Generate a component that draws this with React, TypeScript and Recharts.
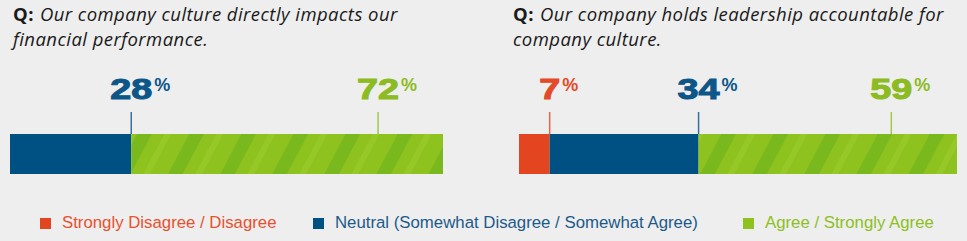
import React from "react";
import { BarChart, Bar, XAxis, YAxis, LabelList } from "recharts";

// survey answers, one entry per question (titles kept as their printed lines)
const QUESTIONS = [
  ["Our company culture directly impacts our", "financial performance."],
  ["Our company holds leadership accountable for", "company culture."],
];
const DISAGREE = [0, 7];
const NEUTRAL = [28, 34];
const AGREE = [72, 59];

const TICKS = [0, 10, 20, 30, 40, 50, 60, 70, 80, 90, 100];
const GREEN_MARKER = 85; // where the "agree" callout sits on the axis

const SERIES = [
  { key: "disagree", label: "Strongly Disagree / Disagree", color: "#e34521", text: "#e24a28", line: "#e8653f", legend: "#e8502e" },
  { key: "neutral", label: "Neutral (Somewhat Disagree / Somewhat Agree)", color: "#005183", text: "#0c5688", line: "#3a6f9c", legend: "#1d5a8a" },
  { key: "agree", label: "Agree / Strongly Agree", color: "url(#greenTexture)", text: "#8cbb22", line: "#9ec94e", legend: "#8cc022" },
];

const PANELS = [
  { left: 0, width: 480, margin: { top: 127, bottom: 59, left: 10, right: 37 }, titleLeft: 13 },
  { left: 480, width: 487, margin: { top: 127, bottom: 59, left: 39, right: 10 }, titleLeft: 513 },
];

function makeMarker(seriesKey: string, qi: number, color: string, lineColor: string) {
  return (p: any) => {
    const vb = p.viewBox || p;
    const x = Number(vb.x);
    const y = Number(vb.y);
    const w = Number(vb.width);
    let value = 0;
    let mx = x + w;
    if (seriesKey === "disagree") value = DISAGREE[qi];
    if (seriesKey === "neutral") value = NEUTRAL[qi];
    if (seriesKey === "agree") {
      value = AGREE[qi];
      const start = DISAGREE[qi] + NEUTRAL[qi];
      mx = x + (w * (GREEN_MARKER - start)) / value;
    }
    if (!value) return null;
    const digits = String(value).length;
    const numW = digits * 21;
    return (
      <g>
        <line x1={mx} x2={mx} y1={112} y2={y} stroke={lineColor} strokeWidth={1.5} />
        <text
          x={mx}
          y={99}
          textAnchor="middle"
          fontFamily="'Liberation Sans', Arial, sans-serif"
          fontWeight={700}
          fontSize={29}
          fill={color}
          stroke={color}
          strokeWidth={1}
          textLength={numW}
          lengthAdjust="spacingAndGlyphs"
        >
          {value}
        </text>
        <text
          x={mx + numW / 2 + 2}
          y={91}
          fontFamily="'Liberation Sans', Arial, sans-serif"
          fontWeight={700}
          fontSize={18}
          fill={color}
        >
          %
        </text>
      </g>
    );
  };
}

function Panel({ qi }: { qi: number }) {
  const cfg = PANELS[qi];
  const data = [
    { name: `q${qi}`, disagree: DISAGREE[qi], neutral: NEUTRAL[qi], agree: AGREE[qi] },
  ];
  return (
    <div style={{ position: "absolute", left: cfg.left, top: 0 }}>
      <BarChart width={cfg.width} height={241} data={data} layout="vertical" margin={cfg.margin} barCategoryGap={0}>
        <defs>
          <pattern id="greenTexture" width="46" height="46" patternUnits="userSpaceOnUse" patternTransform="rotate(28)">
            <rect width="46" height="46" fill="#8dc21f" />
            <rect x="0" width="13" height="46" fill="#74b51d" opacity="0.75" />
            <rect x="24" width="6" height="46" fill="#98c92a" opacity="0.8" />
          </pattern>
        </defs>
        <XAxis
          xAxisId="top"
          orientation="top"
          type="number"
          domain={[0, 100]}
          ticks={TICKS}
          height={7}
          tickSize={7}
          tick={false}
          axisLine={false}
          tickLine={{ stroke: "#c9c9c9" }}
        />
        <XAxis
          xAxisId="bottom"
          orientation="bottom"
          type="number"
          domain={[0, 100]}
          ticks={TICKS}
          height={8}
          tickSize={8}
          tick={false}
          axisLine={false}
          tickLine={{ stroke: "#c9c9c9" }}
        />
        <YAxis type="category" dataKey="name" hide />
        {SERIES.map((s) => (
          <Bar key={s.key} dataKey={s.key} stackId="a" xAxisId="bottom" fill={s.color} isAnimationActive={false}>
            <LabelList dataKey={s.key} content={makeMarker(s.key, qi, s.text, s.line)} />
          </Bar>
        ))}
      </BarChart>
    </div>
  );
}

const titleStyle: React.CSSProperties = {
  position: "absolute",
  fontFamily: "'Open Sans', sans-serif",
  fontSize: 18.5,
  letterSpacing: 0.45,
  lineHeight: "25px",
  color: "#1a1a1a",
  whiteSpace: "nowrap",
};

export default function App() {
  return (
    <div
      style={{
        position: "absolute",
        left: 0,
        top: 0,
        width: 967,
        height: 241,
        background: "#eeeeee",
        overflow: "hidden",
      }}
    >
      {QUESTIONS.map((lines, i) =>
        lines.map((line, li) => (
          <div key={`q-${i}-${li}`} style={{ ...titleStyle, left: PANELS[i].titleLeft, top: 1 + li * 25 }}>
            {li === 0 && <b style={{ marginRight: 6 }}>Q:</b>}
            <i>{line}</i>
          </div>
        ))
      )}
      <Panel qi={0} />
      <Panel qi={1} />
      {SERIES.map((s, i) => (
        <div
          key={s.key}
          style={{
            position: "absolute",
            left: [40, 313, 743][i],
            top: 213,
            display: "flex",
            alignItems: "center",
            fontFamily: "'Liberation Sans', Arial, sans-serif",
            fontSize: 16.8,
            color: s.legend,
            whiteSpace: "nowrap",
          }}
        >
          <span
            style={{
              display: "inline-block",
              width: 11,
              height: 11,
              background: i === 2 ? "#8dc21f" : s.color,
              marginRight: 11,
            }}
          />
          {s.label}
        </div>
      ))}
    </div>
  );
}
